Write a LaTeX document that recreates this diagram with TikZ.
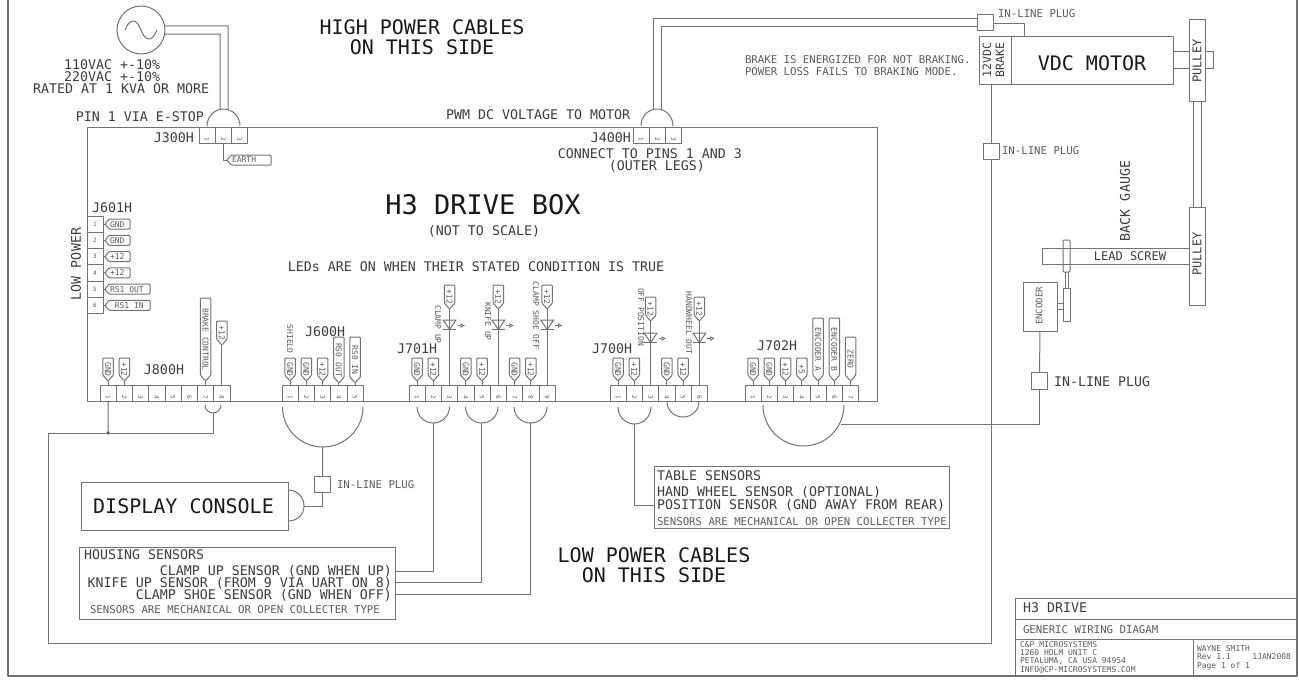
\documentclass[tikz,border=0pt]{standalone}
\usepackage{fontspec}
\setmainfont{DejaVu Sans Mono}
\usetikzlibrary{arrows.meta}
\definecolor{ink}{gray}{.1}
\definecolor{midink}{gray}{.24}
\definecolor{softink}{gray}{.36}
\definecolor{ln}{gray}{.45}
\newcommand\fz[1]{\fontsize{#1}{#1}\selectfont}
\tikzset{
  sz/.style={font=\fz{#1},text height=0.73*#1 pt,text depth=0pt,inner sep=0pt,outer sep=0pt},
  big/.style={sz=20,text=ink},
  huge/.style={sz=27,text=ink},
  med/.style={sz=13.3,text=midink},
  small/.style={sz=10.7,text=softink},
  tiny/.style={sz=8,text=softink},
  wire/.style={draw=ln,line width=1pt},
  box/.style={draw=ln,line width=1pt,inner sep=0pt,outer sep=0pt},
  cell/.style={box,minimum width=16.25pt,minimum height=16pt,sz=6,text=softink},
  plug/.style={box,minimum size=16.5pt,fill=white},
  back/.style={box,fill=white},
}
% row of terminals: name, left x, top y, count
\newcommand\termrow[4]{\foreach \i in {1,...,#4}{
  \node[cell] (#1-\i) at ({#2+16.25*(\i-.5)},{#3+8}) {\rotatebox{-90}{\i}};}}
% vertical tag above a terminal: cell, top y, tip y, text
\newcommand\tagon[4]{%
  \pgfmathsetmacro\hh{#3-#2-6}\pgfmathsetmacro\mm{(#3-#2+6)/2-3}%
  \coordinate (#1-tip) at (#1.north |- 0,#3);
  \draw[wire,rounded corners=1pt] (#1-tip) -- ++(-5.3,-6) -- ++(0,-\hh) -- ++(10.6,0) -- ++(0,\hh) -- cycle;
  \path (#1-tip) ++(0,-\mm) node[tiny,rotate=-90] (#1-tag) {#4};
}
% horizontal tag: name, tip coordinate, body width, text
\newcommand\htag[4]{%
  \draw[wire,rounded corners=1pt] (#2) -- ++(4,-5) -- ++(#3,0) -- ++(0,10) -- ++(-#3,0) -- cycle;
  \path (#2) ++(5,0) node[tiny,anchor=west] (#1) {#4};
}
% LED: cell, y of the triangle's top edge
\newcommand\ledon[2]{%
  \coordinate (#1-led) at (#1.north |- 0,#2);
  \draw[wire] (#1-led) ++(-6.5,0) -- ++(13,0) -- ++(-6.5,9.5) -- cycle;
  \draw[wire] (#1-led) ++(-6.5,9.5) -- ++(13,0);
  \draw[draw=ln,line width=.8pt,-{Latex[open,length=4.5pt,width=5pt]}] (#1-led) ++(8,5.5) -- ++(7.5,0);
}
% cup-shaped cable bundle: name, x1, x2, y start, y end
\newcommand\cupwire[5]{%
  \pgfmathsetmacro\xm{(#2+#3)/2}\pgfmathsetmacro\dx{.5523*(#3-#2)/2}\pgfmathsetmacro\dy{.5523*(#5-#4)}%
  \coordinate (#1) at (\xm,#5);
  \draw[wire] (#2,#4) .. controls (#2,#4+\dy) and (\xm-\dx,#5) .. (#1) .. controls (\xm+\dx,#5) and (#3,#4+\dy) .. (#3,#4);
}
\begin{document}
\begin{tikzpicture}[x=1pt,y=-1pt,line join=round]
\useasboundingbox (0,0) rectangle (1299,685);
\fill[white] (0,0) rectangle (1299,685);
% sheet frame
\draw[draw=ln,line width=1.7pt] (8,0) -- (8,676) -- (1297,676) -- (1297,0);

% title block
\draw[wire] (1015,676) -- (1015,598) -- (1297,598) (1015,619) -- (1297,619) (1015,639) -- (1297,639) (1193,639) -- (1193,676);
\node[med,anchor=west] (tb1) at (1023,608) {H3 DRIVE};
\node[small,anchor=west] (tb2) at (1023,630) {GENERIC WIRING DIAGAM};
\node[tiny,anchor=west] (tb3) at (1020,645) {C\&P MICROSYSTEMS};
\node[tiny,anchor=west] (tb4) at (1020,653) {1260 HOLM  UNIT C};
\node[tiny,anchor=west] (tb5) at (1020,661) {PETALUMA, CA USA 94954};
\node[tiny,anchor=west] (tb6) at (1020,670) {INFO@CP-MICROSYSTEMS.COM};
\node[tiny,anchor=west] (tb7) at (1197,649) {WAYNE SMITH};
\node[tiny,anchor=west] (tb8) at (1197,657) {Rev 1.1};
\node[tiny,anchor=east] (tb9) at (1291,657) {1JAN2008};
\node[tiny,anchor=west] (tb10) at (1197,666) {Page 1 of 1};

% H3 box
\node[box,anchor=north west,minimum width=790pt,minimum height=274pt] (drive) at (87,127) {};
\node[huge] (t1) at (483,205) {H3 DRIVE BOX};
\node[med] (t2) at (484,231) {(NOT TO SCALE)};
\node[med] (t3) at (476,267) {LEDs ARE ON WHEN THEIR STATED CONDITION IS TRUE};
\node[big] (t4) at (422,27) {HIGH POWER CABLES};
\node[big] (t5) at (422,47) {ON THIS SIDE};
\node[big] (t6) at (654,555) {LOW POWER CABLES};
\node[big] (t7) at (654,575) {ON THIS SIDE};

% AC source
\node[box,circle,minimum size=48pt] (ac) at (141,30) {};
\draw[wire] (125,30) .. controls (130,17) and (137,19) .. (141,30) .. controls (145,41) and (152,43) .. (157,30);
\node[med,anchor=west] (v1) at (64,65) {110VAC +-10\%};
\node[med,anchor=west] (v2) at (64,77) {220VAC +-10\%};
\node[med,anchor=west] (v3) at (33,89) {RATED AT 1 KVA OR MORE};
\node[med,anchor=east] (v4) at (204,117) {PIN 1 VIA E-STOP};
\node[med,anchor=east] (v5) at (194,138) {J300H};
\termrow{j300}{199}{127}{3}
\cupwire{a300}{207}{240}{126}{109}
\draw[wire] (ac.10) -- (228,26) -- (228,110);
\draw[wire] (ac.-10) -- (220,34) -- (220,110);
\coordinate (earthtip) at (227,160);
\draw[wire] (j300-2.south) |- (earthtip);
\htag{earth}{earthtip}{40}{EARTH}

% J400
\node[med,anchor=west] (p1) at (446,115) {PWM DC VOLTAGE TO MOTOR};
\node[med,anchor=east] (p2) at (631,138) {J400H};
\node[med,anchor=east] (p3) at (742,154) {CONNECT TO PINS 1 AND 3};
\node[med,anchor=east] (p4) at (705,166) {(OUTER LEGS)};
\termrow{j400}{633}{127}{3}
\cupwire{a400}{641}{673}{126}{109}

% J601
\node[med,anchor=west] (l1) at (92,208) {J601H};
\node[med,rotate=90] (l2) at (76,264) {LOW POWER};
\foreach \i/\t/\w in {1/GND/21,2/GND/21,3/+12/21,4/+12/21,5/RS1 OUT/41,6/~RS1 IN/41}{
  \node[cell,minimum width=16pt,minimum height=16.25pt] (j601-\i) at (95,{216+16.25*(\i-.5)}) {\i};
  \coordinate (j601-\i-tip) at (105,{216+16.25*(\i-.5)});
  \draw[wire] (j601-\i) -- (j601-\i-tip);
  \htag{j601-\i-tag}{j601-\i-tip}{\w}{\t}
}

% J800
\node[med] (l3) at (164,370) {J800H};
\termrow{j800}{100}{385}{8}
\tagon{j800-1}{358}{381}{GND}
\tagon{j800-2}{358}{381}{+12}
\tagon{j800-7}{298}{381}{BRAKE CONTROL}
\tagon{j800-8}{321}{345}{+12}
\foreach \c in {j800-1,j800-2,j800-7,j800-8}{\draw[wire] (\c-tip) -- (\c);}
\cupwire{a800}{205}{221}{405}{413}
\coordinate (brkjoin) at (108.1,433);
\draw[wire] (j800-1.south) -- (brkjoin);
\fill[ln!60!black] (brkjoin) circle (1.8);

% J600
\node[med,anchor=west] (l4) at (305,332) {J600H};
\node[tiny,rotate=-90] (l5) at (290,339) {SHIELD};
\termrow{j600}{282}{385}{5}
\tagon{j600-1}{358}{381}{GND}
\tagon{j600-2}{358}{381}{GND}
\tagon{j600-3}{358}{381}{+12}
\tagon{j600-4}{337}{383}{RS0 OUT}
\tagon{j600-5}{337}{383}{RS0 IN}
\foreach \c in {j600-1,j600-2,j600-3,j600-4,j600-5}{\draw[wire] (\c-tip) -- (\c);}
\cupwire{a600}{282.5}{363}{407}{447}
\node[plug] (plugd) at (322.5,484.5) {};
\node[small,anchor=west] (l6) at (337,485) {IN-LINE PLUG};
\node[back,anchor=north west,minimum width=207pt,minimum height=48pt] (display) at (81,482) {};
\node[big] at (183.5,506) (l7) {DISPLAY CONSOLE};
\coordinate (dispcup) at (304,506);
\draw[wire] (288,490) .. controls (297,490) and (304,497) .. (dispcup) .. controls (304,515) and (297,521) .. (288,521);
\draw[wire] (a600) -- (plugd);
\draw[wire] (plugd) |- (dispcup);

% J701
\node[med,anchor=west] (l8) at (397,349) {J701H};
\termrow{j701}{409}{385}{9}
\foreach \a/\b in {1/GND,2/+12,4/GND,5/+12,7/GND,8/+12}{
  \tagon{j701-\a}{358}{381}{\b}
  \draw[wire] (j701-\a-tip) -- (j701-\a);
}
\foreach \a in {3,6,9}{
  \tagon{j701-\a}{285}{309}{+12}
  \draw[wire] (j701-\a-tip) -- (j701-\a);
  \ledon{j701-\a}{320}
}
\node[tiny,rotate=-90] (l9) at (438,324.5) {CLAMP UP};
\node[tiny,rotate=-90] (l10) at (488,321.5) {KNIFE UP};
\node[tiny,rotate=-90] (l11) at (536,315.5) {CLAMP SHOE OFF};
\cupwire{a7011}{417}{449.5}{407}{423}
\cupwire{a7012}{465.5}{498}{407}{423}
\cupwire{a7013}{514}{547}{407}{423}

% J700
\node[med,anchor=west] (l12) at (592,349) {J700H};
\termrow{j700}{610}{385}{6}
\foreach \a/\b in {1/GND,2/+12,4/GND,5/+12}{
  \tagon{j700-\a}{358}{381}{\b}
  \draw[wire] (j700-\a-tip) -- (j700-\a);
}
\foreach \a in {3,6}{
  \tagon{j700-\a}{297}{321}{+12}
  \draw[wire] (j700-\a-tip) -- (j700-\a);
  \ledon{j700-\a}{333}
}
\node[tiny,rotate=-90] (l13) at (641,317) {OFF POSITION};
\node[tiny,rotate=-90] (l14) at (689,323) {HANDWHEEL OUT};
\cupwire{a7001}{618}{651}{407}{424}
\cupwire{a7002}{667}{699}{402}{417}

% J702
\node[med,anchor=west] (l15) at (757,346) {J702H};
\termrow{j702}{745}{385}{7}
\tagon{j702-1}{358}{381}{GND}
\tagon{j702-2}{358}{381}{GND}
\tagon{j702-3}{358}{381}{+12}
\tagon{j702-4}{358}{381}{+5}
\tagon{j702-5}{318}{381}{ENCODER A}
\tagon{j702-6}{318}{381}{ENCODER B}
\tagon{j702-7}{337}{381}{ZERO}
\foreach \c in {j702-1,j702-2,j702-3,j702-4,j702-5,j702-6,j702-7}{\draw[wire] (\c-tip) -- (\c);}
\cupwire{a702}{763}{844}{405}{446}

% housing sensors
\node[box,anchor=north west,minimum width=316pt,minimum height=72pt] (house) at (79,547) {};
\node[med,anchor=west] (h1) at (84,555) {HOUSING SENSORS};
\node[med,anchor=east] (h2) at (392,571) {CLAMP UP SENSOR (GND WHEN UP)};
\node[med,anchor=east] (h3) at (392,583) {KNIFE UP SENSOR (FROM 9 VIA UART ON 8)};
\node[med,anchor=east] (h4) at (392,595) {CLAMP SHOE SENSOR (GND WHEN OFF)};
\node[small,anchor=west] (h5) at (90,610) {SENSORS ARE MECHANICAL OR OPEN COLLECTER TYPE};
\coordinate (hw1) at (395,571);
\coordinate (hw2) at (395,582.5);
\coordinate (hw3) at (395,594.5);
\draw[wire] (a7011) |- (hw1);
\draw[wire] (a7012) |- (hw2);
\draw[wire] (a7013) |- (hw3);

% table sensors
\node[box,anchor=north west,minimum width=295pt,minimum height=62pt] (table) at (654,466) {};
\node[med,anchor=west] (s1) at (657,476) {TABLE SENSORS};
\node[med,anchor=west] (s2) at (657,492) {HAND WHEEL SENSOR (OPTIONAL)};
\node[med,anchor=west] (s3) at (657,504.5) {POSITION SENSOR (GND AWAY FROM REAR)};
\node[small,anchor=west] (s4) at (657,521.5) {SENSORS ARE MECHANICAL OR OPEN COLLECTER TYPE};
\coordinate (tw) at (654,505);
\draw[wire] (a7001) |- (tw);

% motor
\node[box,anchor=north west,minimum width=194pt,minimum height=48.5pt] (motor) at (979,36.5) {};
\draw[wire] (1011.7,36.5) -- (1011.7,85);
\node[big] (m1) at (1092,63) {VDC MOTOR};
\node[sz=11.5,text=midink,rotate=90] (m2) at (987,60) {12VDC};
\node[sz=11.5,text=midink,rotate=90] (m3) at (1000,60) {BRAKE};
\node[small,anchor=west] (m4) at (745,60) {BRAKE IS ENERGIZED FOR NOT BRAKING.};
\node[small,anchor=west] (m5) at (745,72) {POWER LOSS FAILS TO BRAKING MODE.};

% pulleys and belts
\draw[wire] (1173,52) -- (1213,52) -- (1213,69) -- (1173,69);
\draw[wire] (1193,101) -- (1193,207) (1201,101) -- (1201,207);
\node[back,anchor=north west,minimum width=16pt,minimum height=81pt] (pul1) at (1189,20) {};
\node[sz=12,text=midink,rotate=90] (pt1) at (1197,61) {PULLEY};
\node[box,anchor=north west,minimum width=147pt,minimum height=16pt] (lead) at (1042,248) {};
\node[sz=12,text=midink] (lt) at (1130,256) {LEAD SCREW};
\node[back,anchor=north west,minimum width=16pt,minimum height=98pt] (pul2) at (1189,207) {};
\node[sz=12,text=midink,rotate=90] (pt2) at (1197,254) {PULLEY};
\node[med,rotate=90] (bg) at (1125,201) {BACK GAUGE};

% encoder
\draw[wire] (1065,272) -- (1065,288) (1068,272) -- (1068,288);
\node[box,anchor=north west,minimum width=7pt,minimum height=32pt,rounded corners=1pt] (sp1) at (1063,240) {};
\node[box,anchor=north west,minimum width=7pt,minimum height=33pt] (sp2) at (1063,288) {};
\node[box,anchor=north west,minimum width=34pt,minimum height=49pt] (enc) at (1023,282) {};
\node[sz=9,text=softink,rotate=90] (et) at (1039,306) {ENCODER};
\coordinate (sa1) at (1057,303);
\coordinate (sa2) at (1057,309);
\draw[wire] (sa1) -- (sa1 -| sp2.west) (sa2) -- (sa2 -| sp2.west);

% in-line plugs and cables
\node[plug] (plugm) at (985.5,22.5) {};
\node[small,anchor=west] (ip1) at (998,14) {IN-LINE PLUG};
\draw[wire] (653,109) -- (653,18.3) -- (plugm.west |- 0,18.3);
\draw[wire] (661,109) -- (661,26.5) -- (plugm.west |- 0,26.5);
\draw[wire] (plugm.east |- 0,24) -- (1024,24) -- (1024,36.5);
\node[plug] (plugb) at (991.5,151.5) {};
\node[small,anchor=west] (ip2) at (1002,151) {IN-LINE PLUG};
\draw[wire] (plugb.north) -- (plugb.north |- motor.south);
\coordinate (c1) at (991.5,643);
\coordinate (c2) at (48,643);
\coordinate (c3) at (48,433);
\draw[wire] (plugb.south) -- (c1) -- (c2) -- (c3) -- (brkjoin);
\draw[wire] (brkjoin) -| (a800);
\node[plug] (pluge) at (1039.5,381) {};
\node[med,anchor=west] (ip3) at (1054,382) {IN-LINE PLUG};
\draw[wire] (enc.south) -- (pluge.north);
\coordinate (ew) at (841,424);
\draw[wire] (pluge.south) |- (ew);
\end{tikzpicture}
\end{document}
